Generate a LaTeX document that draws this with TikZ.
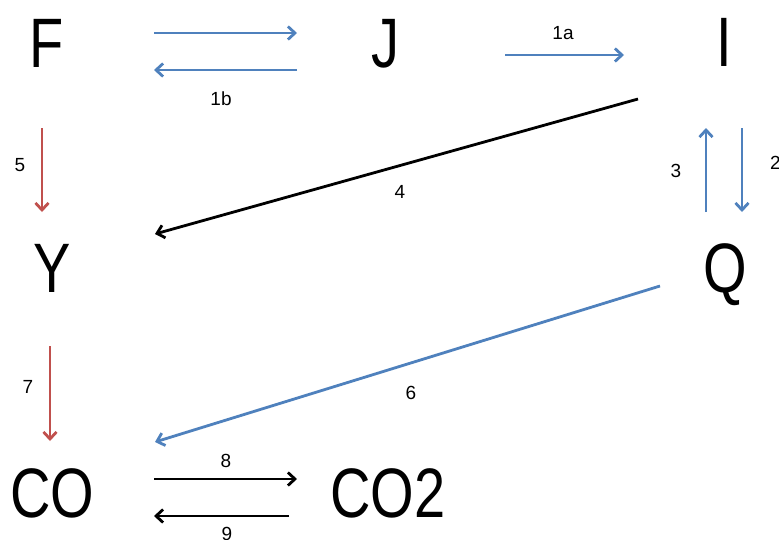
\documentclass[tikz,border=0pt]{standalone}
\usepackage{fontspec}
\setmainfont{Liberation Sans}
\newfontfamily\bigfont[FakeStretch=0.8]{Liberation Sans}
\usetikzlibrary{arrows.meta}
\definecolor{cblue}{RGB}{79,129,189}
\definecolor{cred}{RGB}{192,80,77}
\tikzset{
  species/.style={inner sep=0pt, anchor=base, font=\bigfont\fontsize{70}{70}\selectfont},
  lbl/.style={inner sep=0pt, font=\fontsize{19}{19}\selectfont},
  rx/.style={line width=2.8pt, -{Straight Barb[length=7pt,width=13pt,line width=2.8pt]}},
  bl/.style={rx, cblue},
  rd/.style={rx, cred},
  bk/.style={rx, black},
}
\begin{document}
\begin{tikzpicture}[x=1pt,y=-1pt]
\useasboundingbox (0,0) rectangle (779,539);
% species
\node[species] (F) at (47,67) {F};
\node[species] (J) at (385,67) {J};
\node[species] (I) at (724,66) {I};
\node[species] (Y) at (52,292) {Y};
\node[species] (Q) at (725,292) {Q};
\node[species] (CO) at (52,517) {CO};
\node[species] (CO2) at (388,517) {CO2};
% endpoints
\coordinate (fj1) at (154,33); \coordinate (fj2) at (297,33);
\coordinate (jf1) at (297,70); \coordinate (jf2) at (154,70);
\coordinate (ji1) at (505,55); \coordinate (ji2) at (624,55);
\coordinate (iy1) at (638,99); \coordinate (iy2) at (155,234);
\coordinate (iq1) at (742,128); \coordinate (iq2) at (742,212);
\coordinate (qi1) at (706,212); \coordinate (qi2) at (706,128);
\coordinate (fy1) at (42,128); \coordinate (fy2) at (42,212);
\coordinate (qc1) at (660,286); \coordinate (qc2) at (155,442);
\coordinate (yc1) at (50,346); \coordinate (yc2) at (50,441);
\coordinate (cc1) at (154,479); \coordinate (cc2) at (297,479);
\coordinate (dc1) at (289,516); \coordinate (dc2) at (154,516);
% arrows
\draw[bl] (fj1) -- (fj2);
\draw[bl] (jf1) -- (jf2);
\draw[bl] (ji1) -- (ji2);
\draw[bk] (iy1) -- (iy2);
\draw[bl] (iq1) -- (iq2);
\draw[bl] (qi1) -- (qi2);
\draw[rd] (fy1) -- (fy2);
\draw[bl] (qc1) -- (qc2);
\draw[rd] (yc1) -- (yc2);
\draw[bk] (cc1) -- (cc2);
\draw[bk] (dc1) -- (dc2);
% labels
\node[lbl] (l1b) at (221,99) {1b};
\node[lbl] (l1a) at (563,33) {1a};
\node[lbl] (l4) at (400,192) {4};
\node[lbl, anchor=west] (l2) at (770,163) {2};
\node[lbl] (l3) at (676,171) {3};
\node[lbl] (l5) at (20,165) {5};
\node[lbl] (l6) at (411,393) {6};
\node[lbl] (l7) at (28,387) {7};
\node[lbl] (l8) at (226,461) {8};
\node[lbl] (l9) at (227,534) {9};
\end{tikzpicture}
\end{document}
